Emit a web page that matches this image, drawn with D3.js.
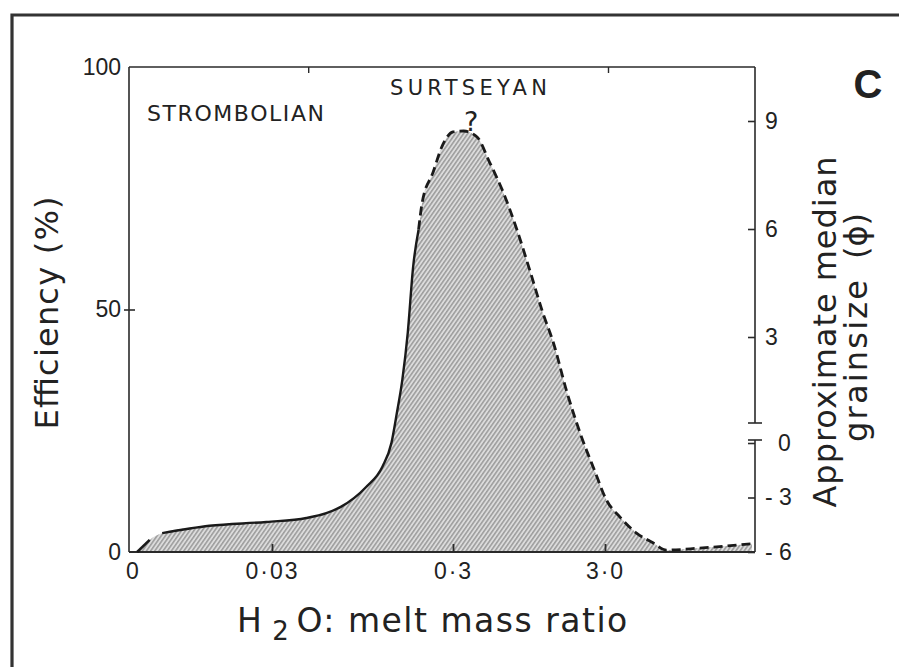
<!DOCTYPE html>
<html>
<head>
<meta charset="utf-8">
<script src="https://cdn.jsdelivr.net/npm/d3@7"></script>
<style>
  html, body { margin: 0; padding: 0; background: #fff; }
  svg { display: block; }
  text { fill: #222; }
</style>
</head>
<body>
<div id="chart"></div>
<script>
// ---------- data ----------
const xTickValues = [0, 1, 2, 3];
const xTickLabels = ["0", "0·03", "0·3", "3·0"];
const topTickValues = [1.2, 3.02];
const effTicks = [0, 50, 100];
const grainTicksLow = [-6, -3, 0];
const grainTicksHigh = [3, 6, 9];
const regimeLabels = ["STROMBOLIAN", "SURTSEYAN"];

// position along the (hand-drawn, logarithmic) ratio axis, in tick units
const ratioPos = [0.03, 0.12, 0.21, 0.55, 0.96, 1.19, 1.30, 1.38, 1.52, 1.61, 1.66, 1.69, 1.72, 1.75, 1.78, 1.81,
                  1.83, 1.89, 1.94, 2.00, 2.07, 2.16, 2.24, 2.33, 2.42, 2.51, 2.59, 2.66, 2.75, 2.84, 2.93,
                  3.01, 3.10, 3.21, 3.32, 3.41, 3.63, 3.98];
// efficiency (%)
const efficiency = [0, 2.5, 3.9, 5.4, 6.2, 7.0, 8.0, 9.3, 13.4, 17.6, 22.5, 28.7, 35.5, 45.2, 58.9, 66.5,
                    72.1, 78.3, 83.7, 86.6, 86.8, 85.5, 80.4, 74.2, 66.5, 57.6, 49.4, 43.2, 32.9, 24.2, 16.9,
                    10.7, 7.2, 3.9, 1.9, 0.4, 0.8, 1.7];

// segment boundaries (indices into the series)
const firstStrokeEnd = 1;
const solidStart = 2;
const solidEnd = 15;

// ---------- layout ----------
const W = 899, H = 667;
const L = 129, R = 755, T = 67, B = 552;
const font = "'DejaVu Sans', 'Liberation Sans', sans-serif";
const numFont = "'Liberation Sans Narrow', 'Liberation Sans', Arial, sans-serif";

const svg = d3.select("#chart").append("svg").attr("width", W).attr("height", H);

const defs = svg.append("defs");
const pat = defs.append("pattern")
  .attr("id", "hatch").attr("patternUnits", "userSpaceOnUse")
  .attr("width", 3.4).attr("height", 10)
  .attr("patternTransform", "rotate(35)");
pat.append("rect").attr("width", 3.4).attr("height", 10).attr("fill", "#dcdcdc");
pat.append("line").attr("x1", 0.8).attr("x2", 0.8).attr("y1", 0).attr("y2", 10)
  .attr("stroke", "#8a8a8a").attr("stroke-width", 1.2);

// scales
const x = d3.scaleLinear().domain([0, 1, 2, 3, 4]).range([133, 272, 453, 605, R]);
const y = d3.scaleLinear().domain([0, 100]).range([B, T]);
const gLow = d3.scaleLinear().domain([-6, 0]).range([B, 443]);
const gHigh = d3.scaleLinear().domain([3, 9]).range([337, 121]);

// outer frame
svg.append("path").attr("d", `M12,${H} V15 H${W}`)
  .attr("fill", "none").attr("stroke", "#333").attr("stroke-width", 3.2);

const pts = ratioPos.map((p, i) => [p, efficiency[i]]);

// hatched area
const area = d3.area().x(d => x(d[0])).y0(y(0)).y1(d => y(d[1])).curve(d3.curveMonotoneX);
svg.append("path").datum(pts).attr("d", area).attr("fill", "url(#hatch)");

// axis frame lines
const axisStroke = "#2a2a2a";
svg.append("line").attr("x1", L).attr("x2", L).attr("y1", T).attr("y2", B)
  .attr("stroke", axisStroke).attr("stroke-width", 1.6);
svg.append("line").attr("x1", L).attr("x2", R).attr("y1", T).attr("y2", T)
  .attr("stroke", axisStroke).attr("stroke-width", 1.6);
svg.append("line").attr("x1", L).attr("x2", R).attr("y1", B).attr("y2", B)
  .attr("stroke", axisStroke).attr("stroke-width", 1.8);
// right axis with break
svg.append("line").attr("x1", R).attr("x2", R).attr("y1", T).attr("y2", 423)
  .attr("stroke", axisStroke).attr("stroke-width", 1.6);
svg.append("line").attr("x1", R).attr("x2", R).attr("y1", 440).attr("y2", B)
  .attr("stroke", axisStroke).attr("stroke-width", 1.6);
[423, 440].forEach(yy => svg.append("line").attr("x1", R - 7).attr("x2", R + 7)
  .attr("y1", yy).attr("y2", yy).attr("stroke", axisStroke).attr("stroke-width", 1.6));

// curve lines
const line = d3.line().x(d => x(d[0])).y(d => y(d[1])).curve(d3.curveMonotoneX);
svg.append("path").datum(pts.slice(0, firstStrokeEnd + 1)).attr("d", line)
  .attr("fill", "none").attr("stroke", "#1a1a1a").attr("stroke-width", 2.6);
svg.append("path").datum(pts.slice(solidStart, solidEnd + 1)).attr("d", line)
  .attr("fill", "none").attr("stroke", "#1a1a1a").attr("stroke-width", 2.4);
svg.append("path").datum(pts.slice(solidEnd)).attr("d", line)
  .attr("fill", "none").attr("stroke", "#1a1a1a").attr("stroke-width", 2.8)
  .attr("stroke-dasharray", "9,5");

// bottom axis
const bottomAxis = d3.axisBottom(x).tickValues(xTickValues)
  .tickFormat((d, i) => xTickLabels[i]).tickSizeInner(-8).tickSizeOuter(0).tickPadding(11);
const gb = svg.append("g").attr("transform", `translate(0,${B})`).call(bottomAxis);
gb.select(".domain").remove();
gb.selectAll(".tick line").attr("stroke", axisStroke).attr("stroke-width", 1.8)
  .attr("opacity", d => d === 0 ? 0 : 1);
gb.selectAll(".tick text").attr("font-family", numFont).attr("font-size", 23)
  .attr("letter-spacing", 2).attr("fill", "#222");

// top axis ticks
const topAxis = d3.axisTop(x).tickValues(topTickValues).tickFormat("").tickSizeInner(-6).tickSizeOuter(0);
const gt = svg.append("g").attr("transform", `translate(0,${T})`).call(topAxis);
gt.select(".domain").remove();
gt.selectAll(".tick line").attr("stroke", axisStroke).attr("stroke-width", 1.4);

// left axis
const leftAxis = d3.axisLeft(y).tickValues(effTicks).tickSize(0).tickPadding(8);
const gl = svg.append("g").attr("transform", `translate(${L},0)`).call(leftAxis);
gl.select(".domain").remove();
gl.selectAll(".tick text").attr("font-family", numFont).attr("font-size", 23).attr("fill", "#222");
gl.selectAll(".tick").filter(d => d === 50).append("line")
  .attr("x1", -5).attr("x2", 6).attr("stroke", axisStroke).attr("stroke-width", 1.6);

// right axes (grain size, phi)
function rightAxis(scale, ticks) {
  const ax = d3.axisRight(scale).tickValues(ticks).tickSizeInner(-7).tickSizeOuter(0).tickPadding(10)
    .tickFormat(d => d < 0 ? "- " + (-d) : String(d));
  const g = svg.append("g").attr("transform", `translate(${R},0)`).call(ax);
  g.select(".domain").remove();
  g.selectAll(".tick line").attr("stroke", axisStroke).attr("stroke-width", 1.6);
  g.selectAll(".tick text").attr("font-family", numFont).attr("font-size", 23).attr("fill", "#222")
    .attr("xml:space", "preserve")
    .attr("dx", d => d === 0 ? 13 : 0);
  return g;
}
rightAxis(gHigh, grainTicksHigh);
rightAxis(gLow, grainTicksLow);

// axis titles
svg.append("text").attr("transform", `translate(58,${313}) rotate(-90)`)
  .attr("text-anchor", "middle").attr("font-family", font).attr("font-size", 32)
  .attr("textLength", 233).attr("lengthAdjust", "spacing")
  .text("Efficiency (%)");

svg.append("text").attr("transform", `translate(836,${332}) rotate(-90)`)
  .attr("text-anchor", "middle").attr("font-family", font).attr("font-size", 32)
  .attr("textLength", 351).attr("lengthAdjust", "spacing")
  .text("Approximate median");
svg.append("text").attr("transform", `translate(867,${361}) rotate(-90)`)
  .attr("text-anchor", "middle").attr("font-family", font).attr("font-size", 32)
  .attr("textLength", 162).attr("lengthAdjust", "spacing")
  .text("grainsize");
svg.append("text").attr("transform", `translate(867,${236}) rotate(-90)`)
  .attr("text-anchor", "middle").attr("font-family", font).attr("font-size", 32)
  .text("(ϕ)");

const xt = svg.append("text").attr("x", 237).attr("y", 632)
  .attr("font-family", font).attr("font-size", 33).attr("letter-spacing", 1.5);
xt.append("tspan").text("H");
xt.append("tspan").attr("dx", 9).attr("dy", 8).attr("font-size", 26).text("2");
xt.append("tspan").attr("dx", 6).attr("dy", -8).text("O: melt mass ratio");

// regime labels
svg.append("text").attr("x", 147).attr("y", 121).attr("font-family", font).attr("font-size", 22)
  .attr("textLength", 177).attr("lengthAdjust", "spacing").text(regimeLabels[0]);
svg.append("text").attr("x", 390).attr("y", 95).attr("font-family", font).attr("font-size", 21)
  .attr("textLength", 157).attr("lengthAdjust", "spacing").text(regimeLabels[1]);

// question mark at the peak
svg.append("text").attr("x", x(2.12)).attr("y", 131).attr("text-anchor", "middle")
  .attr("font-family", font).attr("font-size", 27).text("?");

// panel letter
svg.append("text").attr("x", 868).attr("y", 98).attr("text-anchor", "middle")
  .attr("font-family", "'Liberation Sans', Arial, sans-serif").attr("font-weight", "bold")
  .attr("font-size", 40).attr("fill", "#111").text("C");
</script>
</body>
</html>
